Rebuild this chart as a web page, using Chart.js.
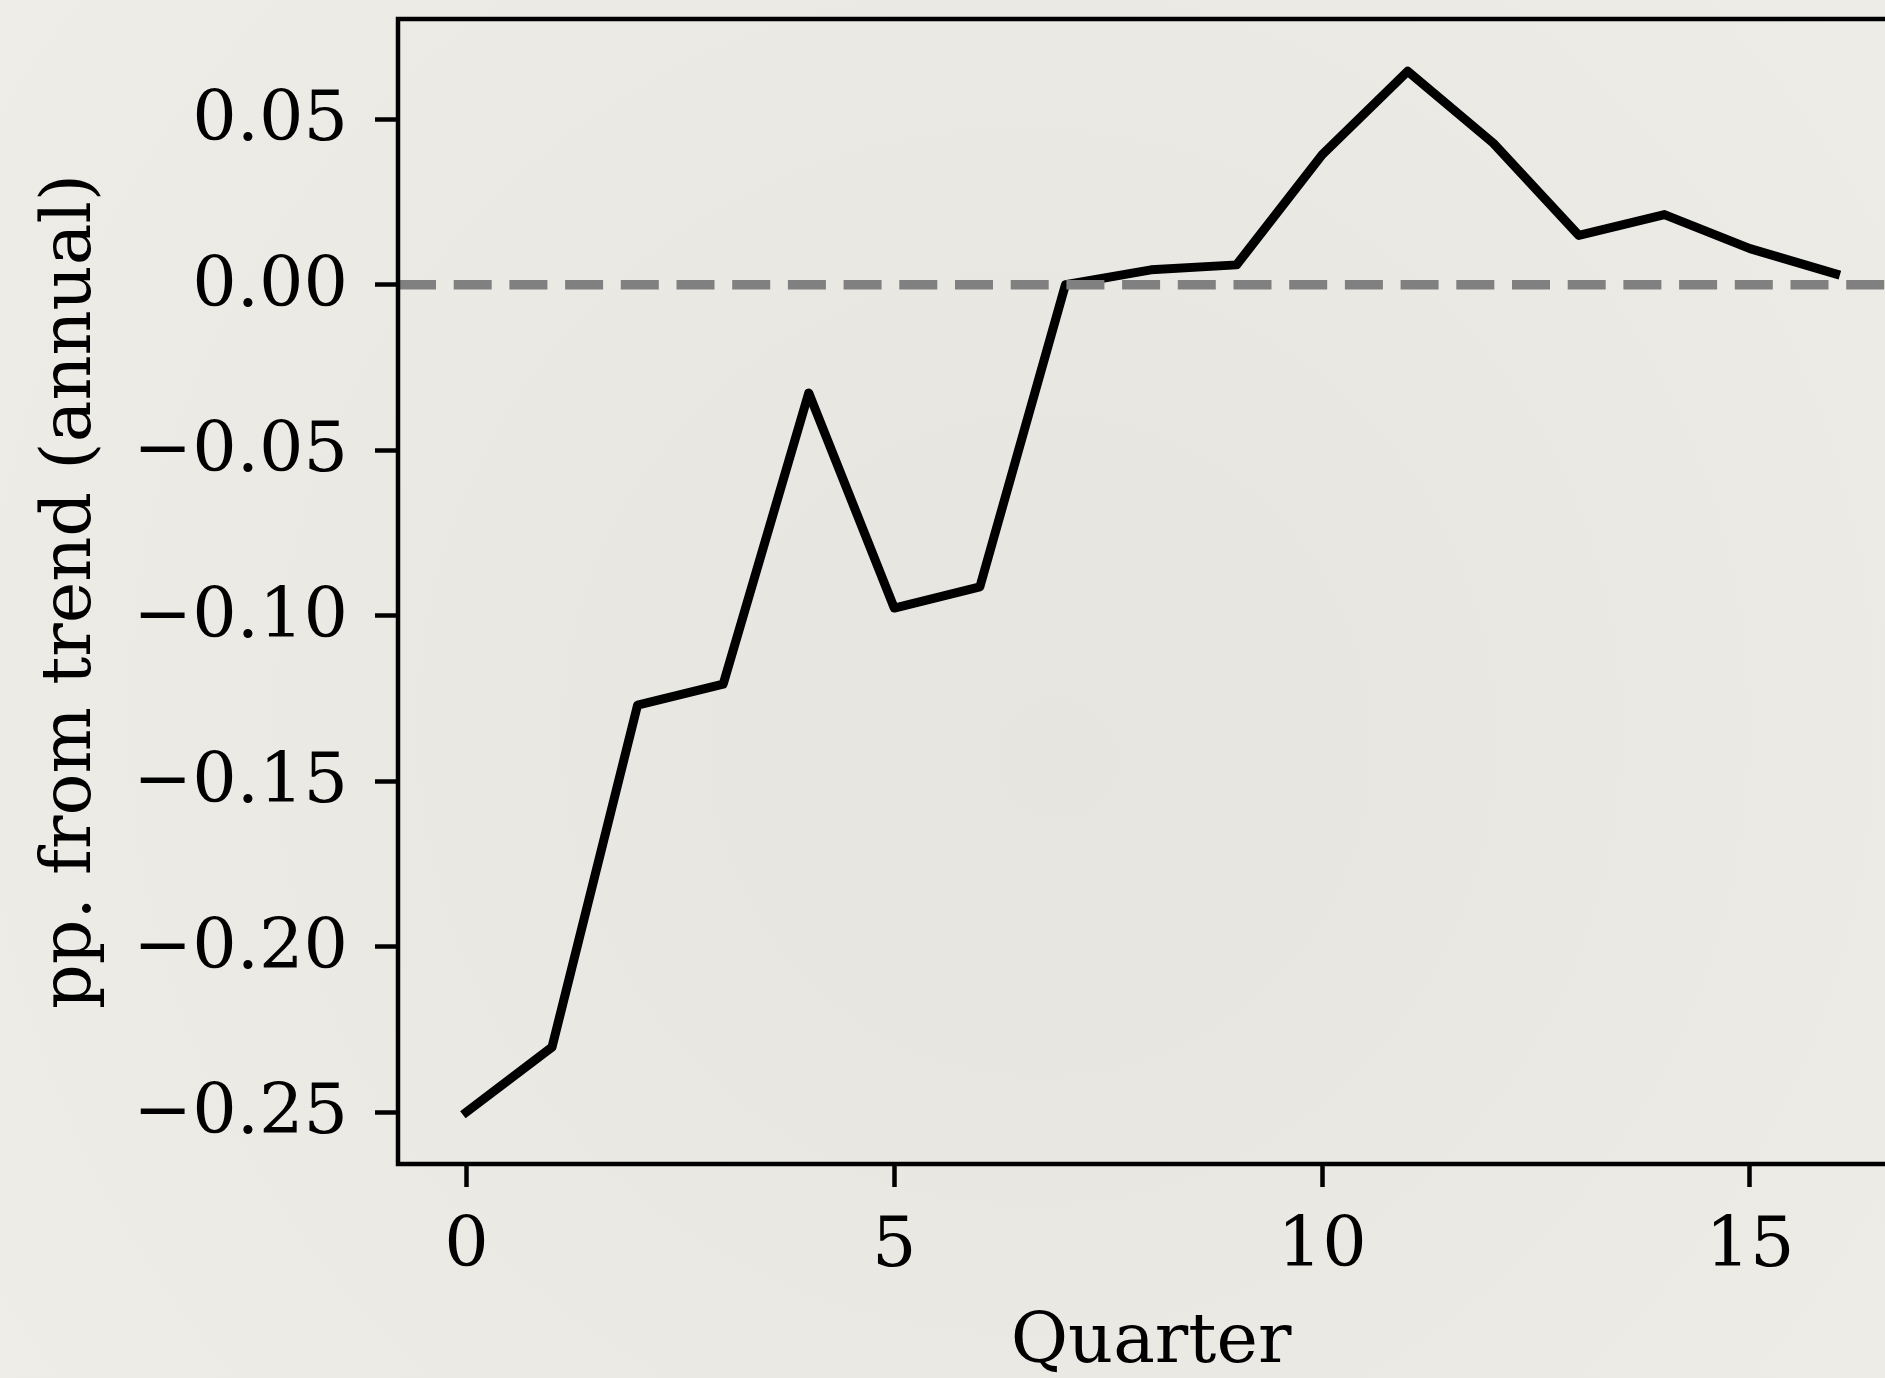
<!DOCTYPE html>
<html>
<head>
<meta charset="utf-8">
<script src="https://cdn.jsdelivr.net/npm/chart.js@4/dist/chart.umd.min.js"></script>
<style>
  html, body { margin: 0; padding: 0; overflow: hidden; background: #ebe9e4; }
  #wrap { width: 1925px; height: 1378px; }
</style>
</head>
<body>
<div id="wrap"><canvas id="c" width="1925" height="1378"></canvas></div>
<script>
// ---- data ----
const quarters = [0, 1, 2, 3, 4, 5, 6, 7, 8, 9, 10, 11, 12, 13, 14, 15, 16];
const gapFromTrend = [-0.25, -0.2304, -0.127, -0.1207, -0.0327, -0.0977, -0.0913, 0.0,
                      0.0045, 0.006, 0.0393, 0.0645, 0.0428, 0.0149, 0.0212, 0.0109, 0.0033];
const xTicks = [0, 5, 10, 15];
const yTicks = [-0.25, -0.20, -0.15, -0.10, -0.05, 0.00, 0.05];
const xLimits = [-0.8, 16.8];
const yLimits = [-0.2657, 0.0803];
const zeroLevel = [0, 0];
const xTitle = 'Quarter';
const yTitle = 'pp. from trend (annual)';

const FONT = '"DejaVu Serif", "Liberation Serif", serif';
const FS = 70;

function fmtY(v) {
  const s = Math.abs(v).toFixed(2);
  return (v < -1e-9 ? '\u2212' : '') + s;
}

const bgPlugin = {
  id: 'paper',
  beforeDraw(chart) {
    const {ctx, width, height} = chart;
    ctx.save();
    const g = ctx.createRadialGradient(width * 0.55, height * 0.55, 50, width * 0.5, height * 0.5, width * 0.75);
    g.addColorStop(0, '#e6e5e0');
    g.addColorStop(1, '#f0eee9');
    ctx.fillStyle = g;
    ctx.fillRect(0, 0, width, height);
    ctx.restore();
  }
};

const framePlugin = {
  id: 'frame',
  afterDatasetsDraw(chart) {
    const {ctx, chartArea: a} = chart;
    ctx.save();
    ctx.strokeStyle = '#000';
    ctx.lineWidth = 4.5;
    ctx.strokeRect(a.left, a.top, a.right - a.left, a.bottom - a.top);
    ctx.restore();
  }
};

function noPad(s) { s.paddingTop = 0; s.paddingBottom = 0; s.paddingLeft = 0; s.paddingRight = 0; }

const mainSeries = quarters.map((q, i) => ({x: q, y: gapFromTrend[i]}));
const zeroSeries = xLimits.map((x, i) => ({x: x, y: zeroLevel[i]}));

new Chart(document.getElementById('c'), {
  type: 'line',
  data: {
    datasets: [
      {
        data: zeroSeries,
        borderColor: '#808080',
        borderWidth: 9.5,
        borderDash: [38, 17.7],
        borderCapStyle: 'butt',
        pointRadius: 0,
        tension: 0
      },
      {
        data: mainSeries,
        borderColor: '#000000',
        borderWidth: 9,
        borderCapStyle: 'square',
        borderJoinStyle: 'round',
        pointRadius: 0,
        tension: 0
      }
    ]
  },
  options: {
    responsive: false,
    devicePixelRatio: 1,
    animation: false,
    events: [],
    layout: { padding: { left: 0, right: 21, top: 19, bottom: 0 } },
    plugins: { legend: { display: false }, tooltip: { enabled: false } },
    scales: {
      x: {
        type: 'linear',
        min: xLimits[0],
        max: xLimits[1],
        afterFit(s) { s.height = 214; noPad(s); },
        afterBuildTicks(s) { s.ticks = xTicks.map(v => ({value: v})); },
        grid: { drawOnChartArea: false, drawTicks: true, tickLength: 23, tickWidth: 4.5, tickColor: '#000' },
        border: { display: false },
        ticks: {
          color: '#000',
          font: { family: FONT, size: FS },
          padding: 19,
          maxRotation: 0,
          autoSkip: false,
          callback: v => String(v)
        },
        title: {
          display: true,
          text: xTitle,
          color: '#000',
          font: { family: FONT, size: FS, lineHeight: 1 },
          padding: { top: 0, bottom: -1 }
        }
      },
      y: {
        type: 'linear',
        min: yLimits[0],
        max: yLimits[1],
        afterFit(s) { s.width = 398; noPad(s); },
        afterBuildTicks(s) { s.ticks = yTicks.map(v => ({value: v})); },
        grid: { drawOnChartArea: false, drawTicks: true, tickLength: 23, tickWidth: 4.5, tickColor: '#000' },
        border: { display: false },
        ticks: {
          color: '#000',
          font: { family: FONT, size: FS },
          padding: 27,
          labelOffset: 3,
          autoSkip: false,
          callback: v => fmtY(v)
        },
        title: {
          display: true,
          text: yTitle,
          color: '#000',
          font: { family: FONT, size: FS, lineHeight: 1 },
          padding: { top: 37, bottom: 0 }
        }
      }
    }
  },
  plugins: [bgPlugin, framePlugin]
});
</script>
</body>
</html>
